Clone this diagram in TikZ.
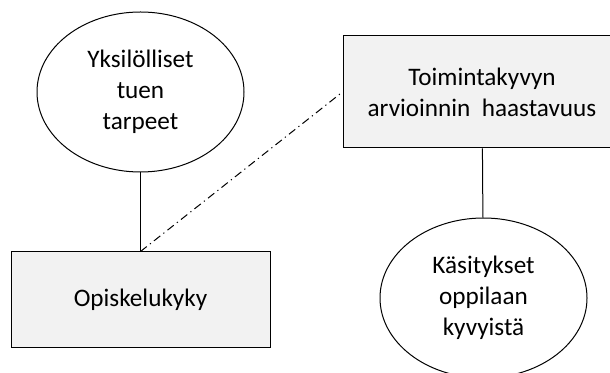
\documentclass[tikz,border=0pt]{standalone}
\usepackage{fontspec}
\setmainfont{Carlito}
\usetikzlibrary{shapes.geometric, positioning}
\definecolor{boxgray}{HTML}{F2F2F2}

\begin{document}
\begin{tikzpicture}[x=0.5pt, y=-0.5pt,
    every node/.style={font=\fontsize{12.6}{15.5}\selectfont, align=center, line width=0.5pt},
    oval/.style={draw, ellipse, minimum width=103.5pt, minimum height=80pt, inner sep=0pt},
    box/.style={draw, fill=boxgray, rectangle, inner sep=0pt}]
  \useasboundingbox (0,0) rectangle (610,373);
  \clip (0,0) rectangle (610,373);

  % ellipses and boxes
  \node[oval] (tarpeet) at (140.5,92) {Yksilölliset\\tuen\\tarpeet};
  \node[box, minimum width=129.5pt, minimum height=48pt] (opiskelu) at (140.5,300) {Opiskelukyky};
  \node[box, minimum width=139pt, minimum height=56pt] (arviointi) at (482,92) {Toimintakyvyn\\arvioinnin\ \ haastavuus};
  \node[oval] (kasitykset) at (483.5,298) {Käsitykset\\oppilaan\\kyvyistä};

  % connectors
  \draw[line width=0.5pt] (tarpeet) -- (opiskelu);
  \draw[line width=0.5pt] (arviointi) -- (kasitykset);
  \draw[line width=0.5pt, dash pattern=on 4pt off 2pt on 0.6pt off 2pt] (opiskelu.north) -- (arviointi.west);
\end{tikzpicture}
\end{document}
